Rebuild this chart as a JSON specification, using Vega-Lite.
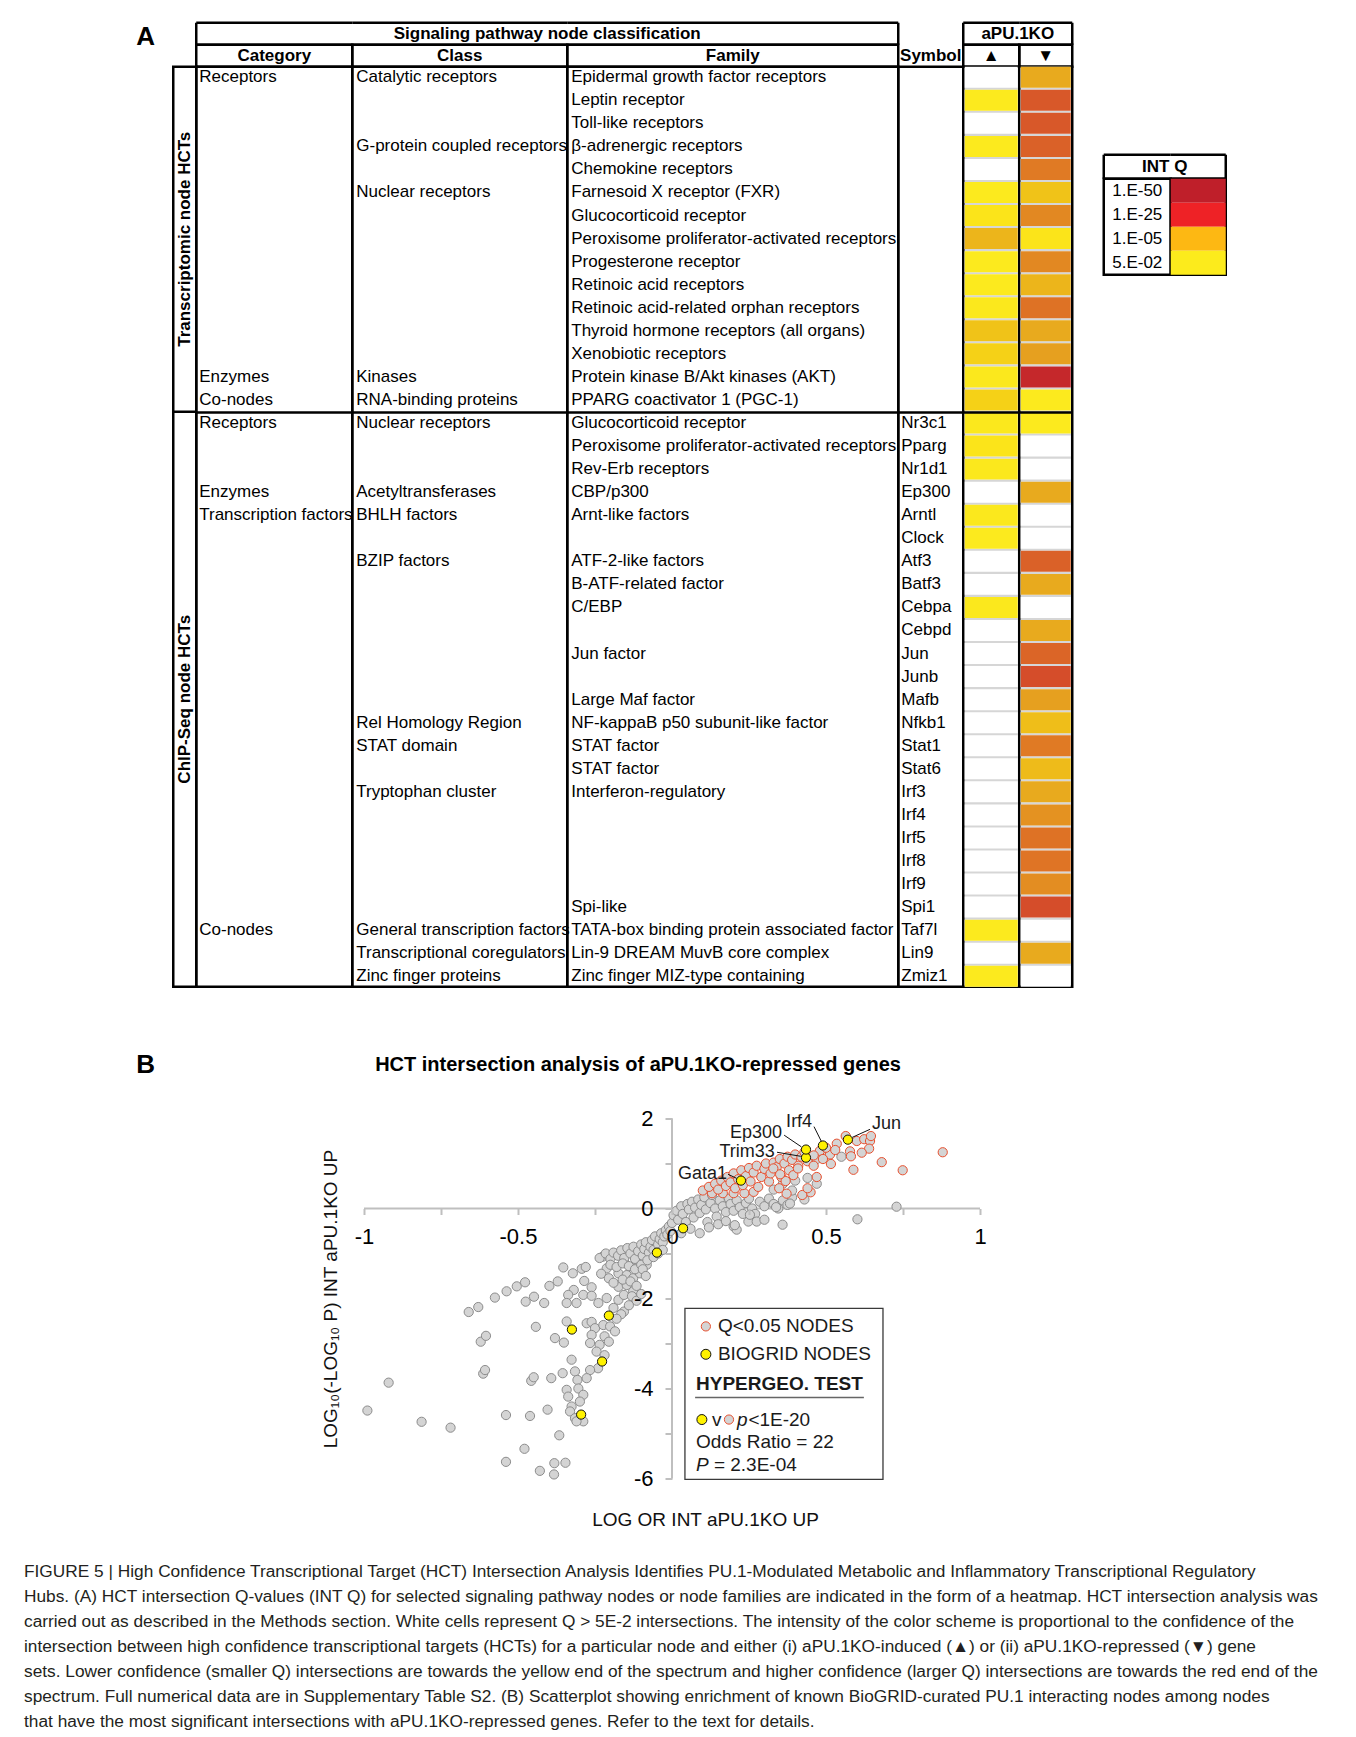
{
"$schema": "https://vega.github.io/schema/vega-lite/v6.json",
"background": "white",
"padding": {"left": 24, "top": 20.75, "right": 6, "bottom": 6},
"config": {"font": "Liberation Sans", "view": {"stroke": null}, "text": {"color": "#000000"}},
"datasets": {
"table": [
{"row":0,"cat":"Receptors","cls":"Catalytic receptors","fam":"Epidermal growth factor receptors","sym":"","up":null,"down":5},
{"row":1,"cat":"","cls":"","fam":"Leptin receptor","sym":"","up":1.6,"down":18},
{"row":2,"cat":"","cls":"","fam":"Toll-like receptors","sym":"","up":null,"down":18},
{"row":3,"cat":"","cls":"G-protein coupled receptors","fam":"β-adrenergic receptors","sym":"","up":1.6,"down":16},
{"row":4,"cat":"","cls":"","fam":"Chemokine receptors","sym":"","up":null,"down":10},
{"row":5,"cat":"","cls":"Nuclear receptors","fam":"Farnesoid X receptor (FXR)","sym":"","up":1.6,"down":3.4},
{"row":6,"cat":"","cls":"","fam":"Glucocorticoid receptor","sym":"","up":2,"down":8.5},
{"row":7,"cat":"","cls":"","fam":"Peroxisome proliferator-activated receptors","sym":"","up":4.3,"down":2},
{"row":8,"cat":"","cls":"","fam":"Progesterone receptor","sym":"","up":1.6,"down":8.5},
{"row":9,"cat":"","cls":"","fam":"Retinoic acid receptors","sym":"","up":1.6,"down":4.3},
{"row":10,"cat":"","cls":"","fam":"Retinoic acid-related orphan receptors","sym":"","up":1.7,"down":12},
{"row":11,"cat":"","cls":"","fam":"Thyroid hormone receptors (all organs)","sym":"","up":3.4,"down":5},
{"row":12,"cat":"","cls":"","fam":"Xenobiotic receptors","sym":"","up":2.7,"down":6},
{"row":13,"cat":"Enzymes","cls":"Kinases","fam":"Protein kinase B/Akt kinases (AKT)","sym":"","up":1.7,"down":45},
{"row":14,"cat":"Co-nodes","cls":"RNA-binding proteins","fam":"PPARG coactivator 1 (PGC-1)","sym":"","up":2.7,"down":1.6},
{"row":15,"cat":"Receptors","cls":"Nuclear receptors","fam":"Glucocorticoid receptor","sym":"Nr3c1","up":1.7,"down":1.6},
{"row":16,"cat":"","cls":"","fam":"Peroxisome proliferator-activated receptors","sym":"Pparg","up":2,"down":null},
{"row":17,"cat":"","cls":"","fam":"Rev-Erb receptors","sym":"Nr1d1","up":1.7,"down":null},
{"row":18,"cat":"Enzymes","cls":"Acetyltransferases","fam":"CBP/p300","sym":"Ep300","up":null,"down":5},
{"row":19,"cat":"Transcription factors","cls":"BHLH factors","fam":"Arnt-like factors","sym":"Arntl","up":1.7,"down":null},
{"row":20,"cat":"","cls":"","fam":"","sym":"Clock","up":1.6,"down":null},
{"row":21,"cat":"","cls":"BZIP factors","fam":"ATF-2-like factors","sym":"Atf3","up":null,"down":16},
{"row":22,"cat":"","cls":"","fam":"B-ATF-related factor","sym":"Batf3","up":null,"down":5},
{"row":23,"cat":"","cls":"","fam":"C/EBP","sym":"Cebpa","up":1.7,"down":null},
{"row":24,"cat":"","cls":"","fam":"","sym":"Cebpd","up":null,"down":5},
{"row":25,"cat":"","cls":"","fam":"Jun factor","sym":"Jun","up":null,"down":15},
{"row":26,"cat":"","cls":"","fam":"","sym":"Junb","up":null,"down":22},
{"row":27,"cat":"","cls":"","fam":"Large Maf factor","sym":"Mafb","up":null,"down":6},
{"row":28,"cat":"","cls":"Rel Homology Region","fam":"NF-kappaB p50 subunit-like factor","sym":"Nfkb1","up":null,"down":3.7},
{"row":29,"cat":"","cls":"STAT domain","fam":"STAT factor","sym":"Stat1","up":null,"down":10},
{"row":30,"cat":"","cls":"","fam":"STAT factor","sym":"Stat6","up":null,"down":3.9},
{"row":31,"cat":"","cls":"Tryptophan cluster","fam":"Interferon-regulatory","sym":"Irf3","up":null,"down":5},
{"row":32,"cat":"","cls":"","fam":"","sym":"Irf4","up":null,"down":7.5},
{"row":33,"cat":"","cls":"","fam":"","sym":"Irf5","up":null,"down":12},
{"row":34,"cat":"","cls":"","fam":"","sym":"Irf8","up":null,"down":11.5},
{"row":35,"cat":"","cls":"","fam":"","sym":"Irf9","up":null,"down":8},
{"row":36,"cat":"","cls":"","fam":"Spi-like","sym":"Spi1","up":null,"down":22},
{"row":37,"cat":"Co-nodes","cls":"General transcription factors","fam":"TATA-box binding protein associated factor","sym":"Taf7l","up":1.6,"down":null},
{"row":38,"cat":"","cls":"Transcriptional coregulators","fam":"Lin-9 DREAM MuvB core complex","sym":"Lin9","up":null,"down":5},
{"row":39,"cat":"","cls":"Zinc finger proteins","fam":"Zinc finger MIZ-type containing","sym":"Zmiz1","up":1.6,"down":null}
],
"legendq": [{"label":"1.E-50"},{"label":"1.E-25"},{"label":"1.E-05"},{"label":"5.E-02"}],
"caption": [
{"line":1,"text":"FIGURE 5 | High Confidence Transcriptional Target (HCT) Intersection Analysis Identifies PU.1-Modulated Metabolic and Inflammatory Transcriptional Regulatory"},
{"line":2,"text":"Hubs. (A) HCT intersection Q-values (INT Q) for selected signaling pathway nodes or node families are indicated in the form of a heatmap. HCT intersection analysis was"},
{"line":3,"text":"carried out as described in the Methods section. White cells represent Q > 5E-2 intersections. The intensity of the color scheme is proportional to the confidence of the"},
{"line":4,"text":"intersection between high confidence transcriptional targets (HCTs) for a particular node and either (i) aPU.1KO-induced (▲) or (ii) aPU.1KO-repressed (▼) gene"},
{"line":5,"text":"sets. Lower confidence (smaller Q) intersections are towards the yellow end of the spectrum and higher confidence (larger Q) intersections are towards the red end of the"},
{"line":6,"text":"spectrum. Full numerical data are in Supplementary Table S2. (B) Scatterplot showing enrichment of known BioGRID-curated PU.1 interacting nodes among nodes"},
{"line":7,"text":"that have the most significant intersections with aPU.1KO-repressed genes. Refer to the text for details."}
],
"pts": [
{"x":-0.989,"y":-4.49,"g":"n"},{"x":-0.92,"y":-3.87,"g":"n"},{"x":-0.813,"y":-4.74,"g":"n"},{"x":-0.719,"y":-4.87,"g":"n"},{"x":-0.66,"y":-2.3,"g":"n"},{"x":-0.629,"y":-2.19,"g":"n"},{"x":-0.575,"y":-1.98,"g":"n"},{"x":-0.537,"y":-1.84,"g":"n"},{"x":-0.504,"y":-1.73,"g":"n"},{"x":-0.477,"y":-1.64,"g":"n"},
{"x":-0.621,"y":-2.96,"g":"n"},{"x":-0.604,"y":-2.83,"g":"n"},{"x":-0.613,"y":-3.67,"g":"n"},{"x":-0.607,"y":-3.59,"g":"n"},{"x":-0.539,"y":-4.59,"g":"n"},{"x":-0.461,"y":-4.61,"g":"n"},{"x":-0.404,"y":-4.47,"g":"n"},{"x":-0.539,"y":-5.63,"g":"n"},{"x":-0.479,"y":-5.34,"g":"n"},{"x":-0.429,"y":-5.83,"g":"n"},
{"x":-0.382,"y":-5.66,"g":"n"},{"x":-0.346,"y":-5.65,"g":"n"},{"x":-0.383,"y":-5.91,"g":"n"},{"x":-0.366,"y":-5.04,"g":"n"},{"x":-0.442,"y":-2.63,"g":"n"},{"x":-0.457,"y":-3.83,"g":"n"},{"x":-0.449,"y":-3.75,"g":"n"},{"x":-0.392,"y":-3.77,"g":"n"},{"x":-0.475,"y":-2.07,"g":"n"},{"x":-0.448,"y":-1.96,"g":"n"},
{"x":-0.415,"y":-2.1,"g":"n"},{"x":-0.398,"y":-1.72,"g":"n"},{"x":-0.371,"y":-1.62,"g":"n"},{"x":-0.353,"y":-1.31,"g":"n"},{"x":-0.322,"y":-1.44,"g":"n"},{"x":-0.293,"y":-1.34,"g":"n"},{"x":-0.28,"y":-1.3,"g":"n"},{"x":-0.342,"y":-2.51,"g":"n"},{"x":-0.38,"y":-2.88,"g":"n"},{"x":-0.351,"y":-2.98,"g":"n"},
{"x":-0.326,"y":-3.36,"g":"n"},{"x":-0.355,"y":-3.66,"g":"n"},{"x":-0.315,"y":-3.62,"g":"n"},{"x":-0.307,"y":-3.81,"g":"n"},{"x":-0.342,"y":-4.03,"g":"n"},{"x":-0.337,"y":-4.18,"g":"n"},{"x":-0.326,"y":-4.4,"g":"n"},{"x":-0.331,"y":-4.51,"g":"n"},{"x":-0.315,"y":-4.66,"g":"n"},{"x":-0.288,"y":-4.73,"g":"n"},
{"x":-0.304,"y":-4.0,"g":"n"},{"x":-0.288,"y":-4.14,"g":"n"},{"x":-0.299,"y":-4.29,"g":"n"},{"x":-0.31,"y":-4.73,"g":"n"},{"x":-0.285,"y":-1.61,"g":"n"},{"x":-0.261,"y":-1.75,"g":"n"},{"x":-0.319,"y":-1.81,"g":"n"},{"x":-0.337,"y":-1.92,"g":"n"},{"x":-0.342,"y":-2.1,"g":"n"},{"x":-0.31,"y":-2.1,"g":"n"},
{"x":-0.288,"y":-1.92,"g":"n"},{"x":-0.261,"y":-1.94,"g":"n"},{"x":-0.239,"y":-2.1,"g":"n"},{"x":-0.277,"y":-2.55,"g":"n"},{"x":-0.261,"y":-2.52,"g":"n"},{"x":-0.25,"y":-2.66,"g":"n"},{"x":-0.223,"y":-2.59,"g":"n"},{"x":-0.201,"y":-2.62,"g":"n"},{"x":-0.185,"y":-2.73,"g":"n"},{"x":-0.219,"y":-2.84,"g":"n"},
{"x":-0.205,"y":-2.96,"g":"n"},{"x":-0.235,"y":-3.03,"g":"n"},{"x":-0.261,"y":-2.81,"g":"n"},{"x":-0.266,"y":-2.99,"g":"n"},{"x":-0.245,"y":-3.18,"g":"n"},{"x":-0.219,"y":-3.26,"g":"n"},{"x":-0.24,"y":-3.55,"g":"n"},{"x":-0.266,"y":-3.59,"g":"n"},{"x":-0.277,"y":-3.77,"g":"n"},{"x":-0.225,"y":-1.07,"g":"n"},
{"x":-0.196,"y":-1.03,"g":"n"},{"x":-0.167,"y":-1.02,"g":"n"},{"x":-0.212,"y":-1.33,"g":"n"},{"x":-0.174,"y":-1.44,"g":"n"},{"x":-0.147,"y":-1.48,"g":"n"},{"x":-0.126,"y":-1.55,"g":"n"},{"x":-0.104,"y":-1.44,"g":"n"},{"x":-0.156,"y":-1.18,"g":"n"},{"x":-0.113,"y":-1.18,"g":"n"},{"x":-0.082,"y":-1.25,"g":"n"},
{"x":-0.093,"y":-1.03,"g":"n"},{"x":-0.071,"y":-0.88,"g":"n"},{"x":-0.212,"y":-1.99,"g":"n"},{"x":-0.174,"y":-2.03,"g":"n"},{"x":-0.19,"y":-2.21,"g":"n"},{"x":-0.156,"y":-2.29,"g":"n"},{"x":-0.126,"y":-1.84,"g":"n"},{"x":-0.174,"y":-1.74,"g":"n"},{"x":-0.147,"y":-1.7,"g":"n"},{"x":-0.156,"y":-1.92,"g":"n"},
{"x":-0.235,"y":-1.1,"g":"n"},{"x":-0.215,"y":-1.0,"g":"n"},{"x":-0.2,"y":-1.12,"g":"n"},{"x":-0.19,"y":-0.98,"g":"n"},{"x":-0.175,"y":-1.05,"g":"n"},{"x":-0.165,"y":-0.93,"g":"n"},{"x":-0.155,"y":-1.1,"g":"n"},{"x":-0.145,"y":-0.88,"g":"n"},{"x":-0.135,"y":-1.0,"g":"n"},{"x":-0.125,"y":-0.85,"g":"n"},
{"x":-0.12,"y":-1.12,"g":"n"},{"x":-0.11,"y":-0.95,"g":"n"},{"x":-0.1,"y":-0.8,"g":"n"},{"x":-0.095,"y":-1.05,"g":"n"},{"x":-0.09,"y":-0.9,"g":"n"},{"x":-0.085,"y":-0.75,"g":"n"},{"x":-0.075,"y":-0.98,"g":"n"},{"x":-0.07,"y":-0.85,"g":"n"},{"x":-0.065,"y":-0.7,"g":"n"},{"x":-0.06,"y":-0.92,"g":"n"},
{"x":-0.055,"y":-0.62,"g":"n"},{"x":-0.045,"y":-0.8,"g":"n"},{"x":-0.04,"y":-0.68,"g":"n"},{"x":-0.035,"y":-0.55,"g":"n"},{"x":-0.03,"y":-0.75,"g":"n"},{"x":-0.025,"y":-0.62,"g":"n"},{"x":-0.02,"y":-0.48,"g":"n"},{"x":-0.015,"y":-0.58,"g":"n"},{"x":-0.01,"y":-0.4,"g":"n"},{"x":-0.005,"y":-0.5,"g":"n"},
{"x":0.0,"y":-0.32,"g":"n"},{"x":-0.2,"y":-1.25,"g":"n"},{"x":-0.18,"y":-1.3,"g":"n"},{"x":-0.16,"y":-1.22,"g":"n"},{"x":-0.14,"y":-1.28,"g":"n"},{"x":-0.12,"y":-1.35,"g":"n"},{"x":-0.1,"y":-1.25,"g":"n"},{"x":-0.08,"y":-1.15,"g":"n"},{"x":-0.06,"y":-1.08,"g":"n"},{"x":-0.045,"y":-1.0,"g":"n"},
{"x":-0.03,"y":-0.92,"g":"n"},{"x":-0.23,"y":-1.45,"g":"n"},{"x":-0.205,"y":-1.55,"g":"n"},{"x":-0.19,"y":-1.65,"g":"n"},{"x":-0.16,"y":-1.58,"g":"n"},{"x":-0.135,"y":-1.62,"g":"n"},{"x":-0.115,"y":-1.72,"g":"n"},{"x":-0.095,"y":-1.35,"g":"n"},{"x":-0.085,"y":-1.5,"g":"n"},{"x":-0.13,"y":-1.95,"g":"n"},
{"x":-0.115,"y":-2.05,"g":"n"},{"x":-0.1,"y":-1.9,"g":"n"},{"x":-0.14,"y":-2.15,"g":"n"},{"x":-0.165,"y":-2.35,"g":"n"},{"x":-0.18,"y":-2.45,"g":"n"},
{"x":0.005,"y":-0.15,"g":"n"},{"x":0.015,"y":-0.05,"g":"n"},{"x":0.02,"y":-0.25,"g":"n"},{"x":0.03,"y":0.05,"g":"n"},{"x":0.035,"y":-0.12,"g":"n"},{"x":0.045,"y":-0.3,"g":"n"},{"x":0.05,"y":0.1,"g":"n"},{"x":0.055,"y":-0.02,"g":"n"},{"x":0.065,"y":0.15,"g":"n"},{"x":0.07,"y":-0.2,"g":"n"},
{"x":0.075,"y":0.02,"g":"n"},{"x":0.085,"y":0.2,"g":"n"},{"x":0.09,"y":-0.1,"g":"n"},{"x":0.095,"y":0.08,"g":"n"},{"x":0.105,"y":0.25,"g":"n"},{"x":0.11,"y":-0.02,"g":"n"},{"x":0.115,"y":-0.3,"g":"n"},{"x":0.125,"y":0.12,"g":"n"},{"x":0.13,"y":0.3,"g":"n"},{"x":0.14,"y":0.0,"g":"n"},
{"x":0.145,"y":-0.18,"g":"n"},{"x":0.155,"y":0.18,"g":"n"},{"x":0.165,"y":0.05,"g":"n"},{"x":0.175,"y":-0.08,"g":"n"},{"x":0.185,"y":0.22,"g":"n"},{"x":0.19,"y":0.1,"g":"n"},{"x":0.2,"y":-0.05,"g":"n"},{"x":0.21,"y":0.18,"g":"n"},{"x":0.22,"y":0.03,"g":"n"},{"x":0.23,"y":-0.12,"g":"n"},
{"x":0.24,"y":0.12,"g":"n"},{"x":0.25,"y":0.22,"g":"n"},{"x":0.26,"y":0.0,"g":"n"},{"x":0.27,"y":-0.12,"g":"n"},{"x":0.285,"y":0.15,"g":"n"},{"x":0.3,"y":0.05,"g":"n"},{"x":0.315,"y":0.22,"g":"n"},{"x":0.33,"y":0.1,"g":"n"},{"x":0.345,"y":0.0,"g":"n"},{"x":0.36,"y":0.18,"g":"n"},
{"x":0.375,"y":0.08,"g":"n"},{"x":0.39,"y":0.25,"g":"n"},{"x":0.15,"y":-0.35,"g":"n"},{"x":0.175,"y":-0.28,"g":"n"},{"x":0.2,"y":-0.4,"g":"n"},{"x":0.21,"y":-0.47,"g":"n"},{"x":0.204,"y":-0.37,"g":"n"},{"x":0.248,"y":-0.29,"g":"n"},{"x":0.275,"y":-0.29,"g":"n"},{"x":0.253,"y":-0.14,"g":"n"},
{"x":0.359,"y":-0.36,"g":"n"},{"x":0.338,"y":0.03,"g":"n"},{"x":0.383,"y":0.11,"g":"n"},{"x":0.602,"y":-0.24,"g":"n"},{"x":0.729,"y":0.04,"g":"n"},{"x":0.3,"y":-0.25,"g":"n"},{"x":0.06,"y":-0.45,"g":"n"},{"x":0.09,"y":-0.55,"g":"n"},{"x":0.12,"y":-0.42,"g":"n"},{"x":0.03,"y":-0.55,"g":"n"},
{"x":0.36,"y":0.55,"g":"n"},{"x":0.4,"y":0.62,"g":"n"},{"x":0.44,"y":0.68,"g":"n"},{"x":0.47,"y":0.55,"g":"n"},{"x":0.43,"y":0.2,"g":"n"},{"x":0.39,"y":0.4,"g":"n"},{"x":0.33,"y":0.42,"g":"n"},{"x":0.55,"y":1.15,"g":"n"},{"x":0.5,"y":1.23,"g":"n"},{"x":0.47,"y":1.1,"g":"n"},
{"x":0.13,"y":0.34,"g":"q"},{"x":0.165,"y":0.34,"g":"q"},{"x":0.2,"y":0.34,"g":"q"},{"x":0.235,"y":0.34,"g":"q"},{"x":0.265,"y":0.37,"g":"q"},{"x":0.1,"y":0.4,"g":"q"},{"x":0.12,"y":0.48,"g":"q"},{"x":0.14,"y":0.55,"g":"q"},{"x":0.15,"y":0.42,"g":"q"},{"x":0.16,"y":0.62,"g":"q"},
{"x":0.175,"y":0.5,"g":"q"},{"x":0.18,"y":0.7,"g":"q"},{"x":0.19,"y":0.58,"g":"q"},{"x":0.2,"y":0.78,"g":"q"},{"x":0.205,"y":0.45,"g":"q"},{"x":0.215,"y":0.65,"g":"q"},{"x":0.225,"y":0.85,"g":"q"},{"x":0.23,"y":0.52,"g":"q"},{"x":0.24,"y":0.72,"g":"q"},{"x":0.25,"y":0.9,"g":"q"},
{"x":0.255,"y":0.6,"g":"q"},{"x":0.265,"y":0.8,"g":"q"},{"x":0.275,"y":0.95,"g":"q"},{"x":0.28,"y":0.48,"g":"q"},{"x":0.29,"y":0.7,"g":"q"},{"x":0.3,"y":0.88,"g":"q"},{"x":0.305,"y":1.0,"g":"q"},{"x":0.315,"y":0.6,"g":"q"},{"x":0.32,"y":0.78,"g":"q"},{"x":0.33,"y":1.02,"g":"q"},
{"x":0.34,"y":0.92,"g":"q"},{"x":0.35,"y":1.1,"g":"q"},{"x":0.355,"y":0.7,"g":"q"},{"x":0.365,"y":1.0,"g":"q"},{"x":0.375,"y":1.15,"g":"q"},{"x":0.38,"y":0.85,"g":"q"},{"x":0.39,"y":1.08,"g":"q"},{"x":0.4,"y":1.2,"g":"q"},{"x":0.41,"y":0.95,"g":"q"},{"x":0.42,"y":1.15,"g":"q"},
{"x":0.43,"y":1.25,"g":"q"},{"x":0.44,"y":1.05,"g":"q"},{"x":0.45,"y":0.36,"g":"q"},{"x":0.423,"y":0.3,"g":"q"},{"x":0.372,"y":0.33,"g":"q"},{"x":0.348,"y":0.45,"g":"q"},{"x":0.369,"y":0.61,"g":"q"},{"x":0.394,"y":0.74,"g":"q"},{"x":0.409,"y":0.89,"g":"q"},{"x":0.351,"y":0.76,"g":"q"},
{"x":0.329,"y":0.89,"g":"q"},{"x":0.47,"y":0.7,"g":"q"},{"x":0.513,"y":1.2,"g":"q"},{"x":0.516,"y":0.99,"g":"q"},{"x":0.535,"y":1.44,"g":"q"},{"x":0.564,"y":1.61,"g":"q"},{"x":0.6,"y":1.5,"g":"q"},{"x":0.624,"y":1.54,"g":"q"},{"x":0.643,"y":1.5,"g":"q"},{"x":0.646,"y":1.61,"g":"q"},
{"x":0.64,"y":1.33,"g":"q"},{"x":0.616,"y":1.24,"g":"q"},{"x":0.578,"y":1.27,"g":"q"},{"x":0.581,"y":1.16,"g":"q"},{"x":0.589,"y":0.86,"g":"q"},{"x":0.681,"y":1.03,"g":"q"},{"x":0.749,"y":0.85,"g":"q"},{"x":0.879,"y":1.25,"g":"q"},{"x":0.48,"y":1.28,"g":"q"},{"x":0.46,"y":1.18,"g":"q"},
{"x":0.5,"y":1.35,"g":"q"},{"x":0.53,"y":1.3,"g":"q"},{"x":0.44,"y":0.45,"g":"q"},{"x":0.46,"y":0.95,"g":"q"},{"x":0.49,"y":1.1,"g":"q"},
{"x":0.036,"y":-0.44,"g":"b","gene":""},{"x":-0.049,"y":-0.98,"g":"b","gene":""},{"x":-0.205,"y":-2.38,"g":"b","gene":""},{"x":-0.325,"y":-2.69,"g":"b","gene":""},{"x":-0.227,"y":-3.4,"g":"b","gene":""},{"x":-0.295,"y":-4.58,"g":"b","gene":""},
{"x":0.224,"y":0.62,"g":"b","gene":"Gata1"},{"x":0.435,"y":1.13,"g":"b","gene":"Trim33"},{"x":0.435,"y":1.31,"g":"b","gene":"Ep300"},{"x":0.49,"y":1.4,"g":"b","gene":"Irf4"},{"x":0.571,"y":1.53,"g":"b","gene":"Jun"}
]
},
"spacing": 62.75,
"resolve": {"scale": {"fill": "independent", "stroke": "independent", "color": "independent", "size": "independent"}},
"vconcat": [
{
"spacing": 15.25,
"hconcat": [
{"width": 131, "height": 28.5, "data": {"values": [{"t": "A"}]}, "mark": {"type": "text", "align": "right", "baseline": "middle", "fontSize": 26, "fontWeight": "bold"}, "encoding": {"text": {"field": "t"}, "x": {"datum": 1, "type": "quantitative", "scale": {"domain": [0, 1]}, "axis": null}}},
{"spacing": 26.5, "hconcat": [
{"columns": 7, "bounds": "flush", "align": "each", "spacing": 0,
 "concat": [
 {"width": 23, "height": 22, "data": {"values": [{"t": ""}]}, "mark": "text", "encoding": {"text": {"field": "t"}}},
 {"width": 156, "height": 22, "data": {"values": [{}]}, "layer": [
   {"mark": {"type": "rule", "color": "#000", "strokeWidth": 2.5}, "encoding": {"y": {"datum": 1, "type": "quantitative", "scale": {"domain": [0, 1]}, "axis": null}}},
   {"mark": {"type": "rule", "color": "#000", "strokeWidth": 2.5}, "encoding": {"y": {"datum": 0, "type": "quantitative"}}},
   {"mark": {"type": "rule", "color": "#000", "strokeWidth": 2.5}, "encoding": {"x": {"datum": 0, "type": "quantitative", "scale": {"domain": [0, 1]}, "axis": null}}}
 ]},
 {"width": 215, "height": 22, "layer": [
   {"data": {"values": [{}]}, "mark": {"type": "rule", "color": "#000", "strokeWidth": 2.5}, "encoding": {"y": {"datum": 1, "type": "quantitative", "scale": {"domain": [0, 1]}, "axis": null}}},
   {"data": {"values": [{}]}, "mark": {"type": "rule", "color": "#000", "strokeWidth": 2.5}, "encoding": {"y": {"datum": 0, "type": "quantitative"}}},
   {"data": {"values": [{"t": "Signaling pathway node classification"}]}, "mark": {"type": "text", "fontSize": 17, "fontWeight": "bold", "baseline": "middle", "dx": 87.5}, "encoding": {"text": {"field": "t"}}}
 ]},
 {"width": 331, "height": 22, "data": {"values": [{}]}, "layer": [
   {"mark": {"type": "rule", "color": "#000", "strokeWidth": 2.5}, "encoding": {"y": {"datum": 1, "type": "quantitative", "scale": {"domain": [0, 1]}, "axis": null}}},
   {"mark": {"type": "rule", "color": "#000", "strokeWidth": 2.5}, "encoding": {"y": {"datum": 0, "type": "quantitative"}}},
   {"mark": {"type": "rule", "color": "#000", "strokeWidth": 2.5}, "encoding": {"x": {"datum": 1, "type": "quantitative", "scale": {"domain": [0, 1]}, "axis": null}}}
 ]},
 {"width": 65, "height": 22, "data": {"values": [{"t": ""}]}, "mark": "text", "encoding": {"text": {"field": "t"}}},
 {"width": 56, "height": 22, "layer": [
   {"data": {"values": [{}]}, "mark": {"type": "rule", "color": "#000", "strokeWidth": 2.5}, "encoding": {"y": {"datum": 1, "type": "quantitative", "scale": {"domain": [0, 1]}, "axis": null}}},
   {"data": {"values": [{}]}, "mark": {"type": "rule", "color": "#000", "strokeWidth": 2.5}, "encoding": {"y": {"datum": 0, "type": "quantitative"}}},
   {"data": {"values": [{}]}, "mark": {"type": "rule", "color": "#000", "strokeWidth": 2.5}, "encoding": {"x": {"datum": 0, "type": "quantitative", "scale": {"domain": [0, 1]}, "axis": null}}},
   {"data": {"values": [{"t": "aPU.1KO"}]}, "mark": {"type": "text", "fontSize": 17, "fontWeight": "bold", "baseline": "middle", "dx": 26.5}, "encoding": {"text": {"field": "t"}}}
 ]},
 {"width": 53, "height": 22, "data": {"values": [{}]}, "layer": [
   {"mark": {"type": "rule", "color": "#000", "strokeWidth": 2.5}, "encoding": {"y": {"datum": 1, "type": "quantitative", "scale": {"domain": [0, 1]}, "axis": null}}},
   {"mark": {"type": "rule", "color": "#000", "strokeWidth": 2.5}, "encoding": {"y": {"datum": 0, "type": "quantitative"}}},
   {"mark": {"type": "rule", "color": "#000", "strokeWidth": 2.5}, "encoding": {"x": {"datum": 1, "type": "quantitative", "scale": {"domain": [0, 1]}, "axis": null}}}
 ]},
 {"width": 23, "height": 22, "data": {"values": [{"t": ""}]}, "mark": "text", "encoding": {"text": {"field": "t"}}},
 {"width": 156, "height": 22, "view": {"stroke": "#000", "strokeWidth": 2.5}, "data": {"values": [{"t": "Category"}]}, "mark": {"type": "text", "fontSize": 17, "fontWeight": "bold", "baseline": "middle"}, "encoding": {"text": {"field": "t"}}},
 {"width": 215, "height": 22, "view": {"stroke": "#000", "strokeWidth": 2.5}, "data": {"values": [{"t": "Class"}]}, "mark": {"type": "text", "fontSize": 17, "fontWeight": "bold", "baseline": "middle"}, "encoding": {"text": {"field": "t"}}},
 {"width": 331, "height": 22, "view": {"stroke": "#000", "strokeWidth": 2.5}, "data": {"values": [{"t": "Family"}]}, "mark": {"type": "text", "fontSize": 17, "fontWeight": "bold", "baseline": "middle"}, "encoding": {"text": {"field": "t"}}},
 {"width": 65, "height": 22, "data": {"values": [{"t": "Symbol"}]}, "mark": {"type": "text", "fontSize": 17, "fontWeight": "bold", "baseline": "middle"}, "encoding": {"text": {"field": "t"}}},
 {"width": 56, "height": 22, "view": {"stroke": "#000", "strokeWidth": 2.5}, "data": {"values": [{"t": "▲"}]}, "mark": {"type": "text", "fontSize": 17, "baseline": "middle"}, "encoding": {"text": {"field": "t"}}},
 {"width": 53, "height": 22, "view": {"stroke": "#000", "strokeWidth": 2.5}, "data": {"values": [{"t": "▼"}]}, "mark": {"type": "text", "fontSize": 17, "baseline": "middle"}, "encoding": {"text": {"field": "t"}}},
 {"width": 23, "height": 920, "view": {"stroke": "#000", "strokeWidth": 2.5},
  "layer": [
  {"data": {"values": [{"t": "Transcriptomic node HCTs", "mid": 7.5}, {"t": "ChIP-Seq node HCTs", "mid": 27.5}]},
   "mark": {"type": "text", "angle": 270, "fontSize": 17, "fontWeight": "bold", "align": "center", "baseline": "middle"},
   "encoding": {"y": {"field": "mid", "type": "quantitative", "scale": {"domain": [0, 40], "reverse": true, "nice": false, "zero": false}, "axis": null}, "text": {"field": "t"}}},
  {"data": {"values": [{}]}, "mark": {"type": "rule", "color": "#000", "strokeWidth": 2.5}, "encoding": {"y": {"datum": 15, "type": "quantitative"}}}
  ]},
 {"width": 156, "height": 920, "view": {"stroke": "#000", "strokeWidth": 2.5}, "data": {"name": "table"},
  "layer": [
  {"mark": {"type": "text", "align": "left", "baseline": "middle", "dx": 3, "fontSize": 17}, "encoding": {"y": {"field": "row", "type": "ordinal", "axis": null, "scale": {"paddingInner": 0.09, "paddingOuter": 0}}, "x": {"datum": 0, "type": "quantitative", "scale": {"domain": [0, 1]}, "axis": null}, "text": {"field": "cat"}}},
  {"transform": [{"filter": "datum.row == 15"}], "mark": {"type": "rule", "color": "#000", "strokeWidth": 2.5}, "encoding": {"y": {"field": "row", "type": "ordinal", "bandPosition": 0, "axis": null, "scale": {"paddingInner": 0.09, "paddingOuter": 0}}}}
  ]},
 {"width": 215, "height": 920, "view": {"stroke": "#000", "strokeWidth": 2.5}, "data": {"name": "table"},
  "layer": [
  {"mark": {"type": "text", "align": "left", "baseline": "middle", "dx": 4, "fontSize": 17}, "encoding": {"y": {"field": "row", "type": "ordinal", "axis": null, "scale": {"paddingInner": 0.09, "paddingOuter": 0}}, "x": {"datum": 0, "type": "quantitative", "scale": {"domain": [0, 1]}, "axis": null}, "text": {"field": "cls"}}},
  {"transform": [{"filter": "datum.row == 15"}], "mark": {"type": "rule", "color": "#000", "strokeWidth": 2.5}, "encoding": {"y": {"field": "row", "type": "ordinal", "bandPosition": 0, "axis": null, "scale": {"paddingInner": 0.09, "paddingOuter": 0}}}}
  ]},
 {"width": 331, "height": 920, "view": {"stroke": "#000", "strokeWidth": 2.5}, "data": {"name": "table"},
  "layer": [
  {"mark": {"type": "text", "align": "left", "baseline": "middle", "dx": 4, "fontSize": 17}, "encoding": {"y": {"field": "row", "type": "ordinal", "axis": null, "scale": {"paddingInner": 0.09, "paddingOuter": 0}}, "x": {"datum": 0, "type": "quantitative", "scale": {"domain": [0, 1]}, "axis": null}, "text": {"field": "fam"}}},
  {"transform": [{"filter": "datum.row == 15"}], "mark": {"type": "rule", "color": "#000", "strokeWidth": 2.5}, "encoding": {"y": {"field": "row", "type": "ordinal", "bandPosition": 0, "axis": null, "scale": {"paddingInner": 0.09, "paddingOuter": 0}}}}
  ]},
 {"width": 65, "height": 920, "view": {"stroke": "#000", "strokeWidth": 2.5}, "data": {"name": "table"},
  "layer": [
  {"mark": {"type": "text", "align": "left", "baseline": "middle", "dx": 3, "fontSize": 17}, "encoding": {"y": {"field": "row", "type": "ordinal", "axis": null, "scale": {"paddingInner": 0.09, "paddingOuter": 0}}, "x": {"datum": 0, "type": "quantitative", "scale": {"domain": [0, 1]}, "axis": null}, "text": {"field": "sym"}}},
  {"transform": [{"filter": "datum.row == 15"}], "mark": {"type": "rule", "color": "#000", "strokeWidth": 2.5}, "encoding": {"y": {"field": "row", "type": "ordinal", "bandPosition": 0, "axis": null, "scale": {"paddingInner": 0.09, "paddingOuter": 0}}}}
  ]},
 {"width": 56, "height": 920, "view": {"stroke": "#000", "strokeWidth": 2.5, "fill": "#D6D6D6"}, "data": {"name": "table"},
  "layer": [
  {"mark": {"type": "rect", "fill": "white"}, "encoding": {"y": {"field": "row", "type": "ordinal", "axis": null, "scale": {"paddingInner": 0.09, "paddingOuter": 0}}, "x": {"datum": 0, "type": "quantitative", "scale": {"domain": [0, 1], "padding": 1.5, "nice": false, "zero": false}, "axis": null}, "x2": {"datum": 1}}},
  {"transform": [{"filter": "isValid(datum.up)"}], "mark": {"type": "rect"}, "encoding": {"y": {"field": "row", "type": "ordinal", "axis": null, "scale": {"paddingInner": 0.09, "paddingOuter": 0}}, "x": {"datum": 0, "type": "quantitative", "scale": {"domain": [0, 1], "padding": 1.5, "nice": false, "zero": false}, "axis": null}, "x2": {"datum": 1},
    "color": {"field": "up", "type": "quantitative", "scale": {"domain": [1.3, 2, 3, 5, 10, 20, 50], "range": ["#FCEE21", "#FBE41A", "#F2C916", "#E8AA1E", "#E07A24", "#D6502A", "#C1202B"], "interpolate": "rgb"}, "legend": null}}},
  {"transform": [{"filter": "datum.row == 15"}], "mark": {"type": "rule", "color": "#000", "strokeWidth": 2.5}, "encoding": {"y": {"field": "row", "type": "ordinal", "bandPosition": 0, "axis": null, "scale": {"paddingInner": 0.09, "paddingOuter": 0}}}}
  ]},
 {"width": 53, "height": 920, "view": {"stroke": "#000", "strokeWidth": 2.5, "fill": "#D6D6D6"}, "data": {"name": "table"},
  "layer": [
  {"mark": {"type": "rect", "fill": "white"}, "encoding": {"y": {"field": "row", "type": "ordinal", "axis": null, "scale": {"paddingInner": 0.09, "paddingOuter": 0}}, "x": {"datum": 0, "type": "quantitative", "scale": {"domain": [0, 1], "padding": 1.5, "nice": false, "zero": false}, "axis": null}, "x2": {"datum": 1}}},
  {"transform": [{"filter": "isValid(datum.down)"}], "mark": {"type": "rect"}, "encoding": {"y": {"field": "row", "type": "ordinal", "axis": null, "scale": {"paddingInner": 0.09, "paddingOuter": 0}}, "x": {"datum": 0, "type": "quantitative", "scale": {"domain": [0, 1], "padding": 1.5, "nice": false, "zero": false}, "axis": null}, "x2": {"datum": 1},
    "color": {"field": "down", "type": "quantitative", "scale": {"domain": [1.3, 2, 3, 5, 10, 20, 50], "range": ["#FCEE21", "#FBE41A", "#F2C916", "#E8AA1E", "#E07A24", "#D6502A", "#C1202B"], "interpolate": "rgb"}, "legend": null}}},
  {"transform": [{"filter": "datum.row == 15"}], "mark": {"type": "rule", "color": "#000", "strokeWidth": 2.5}, "encoding": {"y": {"field": "row", "type": "ordinal", "bandPosition": 0, "axis": null, "scale": {"paddingInner": 0.09, "paddingOuter": 0}}}}
  ]}
 ]},
{"columns": 2, "bounds": "flush", "align": "each", "spacing": 0,
 "concat": [
 {"width": 67, "height": 131.25, "data": {"values": [{"t": ""}]}, "mark": "text", "encoding": {"text": {"field": "t"}}},
 {"width": 55, "height": 131.25, "data": {"values": [{"t": ""}]}, "mark": "text", "encoding": {"text": {"field": "t"}}},
 {"width": 67, "height": 24, "layer": [
   {"data": {"values": [{}]}, "mark": {"type": "rule", "color": "#000", "strokeWidth": 2.5}, "encoding": {"y": {"datum": 1, "type": "quantitative", "scale": {"domain": [0, 1]}, "axis": null}}},
   {"data": {"values": [{}]}, "mark": {"type": "rule", "color": "#000", "strokeWidth": 2.5}, "encoding": {"y": {"datum": 0, "type": "quantitative"}}},
   {"data": {"values": [{}]}, "mark": {"type": "rule", "color": "#000", "strokeWidth": 2.5}, "encoding": {"x": {"datum": 0, "type": "quantitative", "scale": {"domain": [0, 1]}, "axis": null}}},
   {"data": {"values": [{"t": "INT Q"}]}, "mark": {"type": "text", "fontSize": 17, "fontWeight": "bold", "baseline": "middle", "dx": 27.5}, "encoding": {"text": {"field": "t"}}}
 ]},
 {"width": 55, "height": 24, "data": {"values": [{}]}, "layer": [
   {"mark": {"type": "rule", "color": "#000", "strokeWidth": 2.5}, "encoding": {"y": {"datum": 1, "type": "quantitative", "scale": {"domain": [0, 1]}, "axis": null}}},
   {"mark": {"type": "rule", "color": "#000", "strokeWidth": 2.5}, "encoding": {"y": {"datum": 0, "type": "quantitative"}}},
   {"mark": {"type": "rule", "color": "#000", "strokeWidth": 2.5}, "encoding": {"x": {"datum": 1, "type": "quantitative", "scale": {"domain": [0, 1]}, "axis": null}}}
 ]},
 {"width": 67, "height": 96, "view": {"stroke": "#000", "strokeWidth": 2.5}, "data": {"name": "legendq"}, "mark": {"type": "text", "fontSize": 17, "baseline": "middle"}, "encoding": {"y": {"field": "label", "type": "ordinal", "sort": null, "axis": null, "scale": {"paddingInner": 0, "paddingOuter": 0}}, "text": {"field": "label"}}},
 {"width": 55, "height": 96, "view": {"stroke": "#000", "strokeWidth": 2.5}, "data": {"name": "legendq"}, "mark": {"type": "rect"}, "encoding": {"y": {"field": "label", "type": "ordinal", "sort": null, "axis": null, "scale": {"paddingInner": 0, "paddingOuter": 0}}, "fill": {"field": "label", "type": "ordinal", "sort": null, "scale": {"domain": ["1.E-50", "1.E-25", "1.E-05", "5.E-02"], "range": ["#BF1F2A", "#EE2226", "#FDB813", "#FCEB1C"]}, "legend": null}}}
 ]}
]}
]
},
{
"columns": 2, "bounds": "flush", "align": "each", "spacing": {"row": 41, "column": 209},
"concat": [
 {"width": 131, "height": 26, "data": {"values": [{"t": "B"}]}, "mark": {"type": "text", "align": "right", "baseline": "middle", "fontSize": 26, "fontWeight": "bold"}, "encoding": {"text": {"field": "t"}, "x": {"datum": 1, "type": "quantitative", "scale": {"domain": [0, 1]}, "axis": null}}},
 {"width": 616, "height": 26, "data": {"values": [{"t": "HCT intersection analysis of aPU.1KO-repressed genes"}]}, "mark": {"type": "text", "fontSize": 20, "fontWeight": "bold", "baseline": "middle", "dx": -34}, "encoding": {"text": {"field": "t"}}},
 {"width": 131, "height": 400, "data": {"values": [{"t": ""}]}, "mark": "text", "encoding": {"text": {"field": "t"}}},
 {"width": 616, "height": 360,
   "layer": [
   {"data": {"values": [{}]}, "mark": {"type": "rule", "color": "#BFBFBF", "strokeWidth": 2}, "encoding": {"x": {"datum": -1}, "x2": {"datum": 1}, "y": {"datum": 0}}},
   {"data": {"values": [{}]}, "mark": {"type": "rule", "color": "#BFBFBF", "strokeWidth": 2}, "encoding": {"x": {"datum": 0}, "y": {"datum": 2}, "y2": {"datum": -6}}},
   {"data": {"name": "pts"},
    "mark": {"type": "point", "shape": "circle", "filled": true, "opacity": 1, "strokeWidth": 1},
    "encoding": {
     "x": {"field": "x", "type": "quantitative", "scale": {"domain": [-1, 1], "nice": false, "zero": false},
       "axis": {"values": [-1, -0.75, -0.5, -0.25, 0, 0.25, 0.5, 0.75, 1], "labelExpr": "datum.value % 0.5 == 0 ? '' + datum.value : ''", "offset": -270, "zindex": 1, "grid": false, "domain": false, "tickColor": "#BFBFBF", "tickWidth": 2, "tickSize": 6, "labelFontSize": 22, "labelColor": "#000", "labelPadding": 12, "labelOverlap": false, "labelFlush": false,
         "title": "LOG OR INT aPU.1KO UP", "titleFontSize": 19, "titleFontWeight": "normal", "titleColor": "#111", "titleX": 341, "titleY": 311, "titleBaseline": "middle", "titleAlign": "center"}},
     "y": {"field": "y", "type": "quantitative", "scale": {"domain": [-6, 2], "nice": false, "zero": false},
       "axis": {"values": [-6, -5, -4, -3, -2, -1, 0, 1, 2], "labelExpr": "datum.value % 2 == 0 ? '' + datum.value : ''", "offset": -308, "zindex": 1, "grid": false, "domain": false, "tickColor": "#BFBFBF", "tickWidth": 2, "tickSize": 7, "labelFontSize": 22, "labelColor": "#000", "labelPadding": 12, "labelOverlap": false, "labelFlush": false,
         "title": "LOG₁₀(-LOG₁₀ P) INT aPU.1KO UP", "titleFontSize": 19, "titleFontWeight": "normal", "titleColor": "#111", "titleX": -342, "titleY": 180, "titleAngle": 270, "titleBaseline": "middle", "titleAlign": "center"}},
     "fill": {"field": "g", "type": "nominal", "scale": {"domain": ["n", "q", "b"], "range": ["#D4D4D4", "#D4D4D4", "#FFF200"]}, "legend": null},
     "stroke": {"field": "g", "type": "nominal", "scale": {"domain": ["n", "q", "b"], "range": ["#8C8C8C", "#E8502F", "#111111"]}, "legend": null},
     "size": {"field": "g", "type": "nominal", "scale": {"domain": ["n", "q", "b"], "range": [85, 85, 100]}, "legend": null}
    }},
   {"data": {"values": [{}]}, "mark": {"type": "rect", "fill": "white", "stroke": "#3A3A3A", "strokeWidth": 1.3}, "encoding": {"x": {"datum": 0.042}, "x2": {"datum": 0.685}, "y": {"datum": -2.22}, "y2": {"datum": -6.02}}},
   {"data": {"values": [{}]}, "mark": {"type": "point", "shape": "circle", "filled": true, "opacity": 1, "size": 85, "fill": "#D4D4D4", "stroke": "#E8502F", "strokeWidth": 1}, "encoding": {"x": {"datum": 0.11}, "y": {"datum": -2.62}}},
   {"data": {"values": [{}]}, "mark": {"type": "text", "text": "Q<0.05 NODES", "align": "left", "baseline": "middle", "fontSize": 19, "color": "#1A1A1A"}, "encoding": {"x": {"datum": 0.149}, "y": {"datum": -2.62}}},
   {"data": {"values": [{}]}, "mark": {"type": "point", "shape": "circle", "filled": true, "opacity": 1, "size": 100, "fill": "#FFF200", "stroke": "#111", "strokeWidth": 1}, "encoding": {"x": {"datum": 0.11}, "y": {"datum": -3.24}}},
   {"data": {"values": [{}]}, "mark": {"type": "text", "text": "BIOGRID NODES", "align": "left", "baseline": "middle", "fontSize": 19, "color": "#1A1A1A"}, "encoding": {"x": {"datum": 0.149}, "y": {"datum": -3.24}}},
   {"data": {"values": [{}]}, "mark": {"type": "text", "text": "HYPERGEO. TEST", "align": "left", "baseline": "middle", "fontSize": 19, "fontWeight": "bold", "color": "#1A1A1A"}, "encoding": {"x": {"datum": 0.078}, "y": {"datum": -3.91}}},
   {"data": {"values": [{}]}, "mark": {"type": "rule", "color": "#666", "strokeWidth": 1.5}, "encoding": {"x": {"datum": 0.075}, "x2": {"datum": 0.623}, "y": {"datum": -4.2}}},
   {"data": {"values": [{}]}, "mark": {"type": "point", "shape": "circle", "filled": true, "opacity": 1, "size": 100, "fill": "#FFF200", "stroke": "#111", "strokeWidth": 1}, "encoding": {"x": {"datum": 0.097}, "y": {"datum": -4.69}}},
   {"data": {"values": [{}]}, "mark": {"type": "text", "text": "v", "align": "center", "baseline": "middle", "fontSize": 19, "color": "#1A1A1A"}, "encoding": {"x": {"datum": 0.145}, "y": {"datum": -4.69}}},
   {"data": {"values": [{}]}, "mark": {"type": "point", "shape": "circle", "filled": true, "opacity": 1, "size": 85, "fill": "#D4D4D4", "stroke": "#E8502F", "strokeWidth": 1}, "encoding": {"x": {"datum": 0.185}, "y": {"datum": -4.69}}},
   {"data": {"values": [{}]}, "mark": {"type": "text", "text": "p", "align": "left", "baseline": "middle", "fontSize": 19, "fontStyle": "italic", "color": "#1A1A1A"}, "encoding": {"x": {"datum": 0.211}, "y": {"datum": -4.69}}},
   {"data": {"values": [{}]}, "mark": {"type": "text", "text": "<1E-20", "align": "left", "baseline": "middle", "fontSize": 19, "color": "#1A1A1A"}, "encoding": {"x": {"datum": 0.248}, "y": {"datum": -4.69}}},
   {"data": {"values": [{}]}, "mark": {"type": "text", "text": "Odds Ratio = 22", "align": "left", "baseline": "middle", "fontSize": 19, "color": "#1A1A1A"}, "encoding": {"x": {"datum": 0.078}, "y": {"datum": -5.18}}},
   {"data": {"values": [{}]}, "mark": {"type": "text", "text": "P", "align": "left", "baseline": "middle", "fontSize": 19, "fontStyle": "italic", "color": "#1A1A1A"}, "encoding": {"x": {"datum": 0.078}, "y": {"datum": -5.69}}},
   {"data": {"values": [{}]}, "mark": {"type": "text", "text": "= 2.3E-04", "align": "left", "baseline": "middle", "fontSize": 19, "color": "#1A1A1A"}, "encoding": {"x": {"datum": 0.136}, "y": {"datum": -5.69}}},
   {"data": {"values": [{}]}, "mark": {"type": "rule", "color": "#111", "strokeWidth": 1}, "encoding": {"x": {"datum": 0.461}, "y": {"datum": 1.82}, "x2": {"datum": 0.485}, "y2": {"datum": 1.49}}},
   {"data": {"values": [{}]}, "mark": {"type": "rule", "color": "#111", "strokeWidth": 1}, "encoding": {"x": {"datum": 0.643}, "y": {"datum": 1.76}, "x2": {"datum": 0.585}, "y2": {"datum": 1.58}}},
   {"data": {"values": [{}]}, "mark": {"type": "rule", "color": "#111", "strokeWidth": 1}, "encoding": {"x": {"datum": 0.364}, "y": {"datum": 1.63}, "x2": {"datum": 0.42}, "y2": {"datum": 1.37}}},
   {"data": {"values": [{}]}, "mark": {"type": "rule", "color": "#111", "strokeWidth": 1}, "encoding": {"x": {"datum": 0.341}, "y": {"datum": 1.25}, "x2": {"datum": 0.418}, "y2": {"datum": 1.16}}},
   {"data": {"values": [{}]}, "mark": {"type": "rule", "color": "#111", "strokeWidth": 1}, "encoding": {"x": {"datum": 0.182}, "y": {"datum": 0.76}, "x2": {"datum": 0.21}, "y2": {"datum": 0.67}}},
   {"data": {"values": [{}]}, "mark": {"type": "text", "text": "Irf4", "align": "right", "baseline": "middle", "fontSize": 18, "color": "#1A1A1A"}, "encoding": {"x": {"datum": 0.455}, "y": {"datum": 1.93}}},
   {"data": {"values": [{}]}, "mark": {"type": "text", "text": "Jun", "align": "left", "baseline": "middle", "fontSize": 18, "color": "#1A1A1A"}, "encoding": {"x": {"datum": 0.649}, "y": {"datum": 1.87}}},
   {"data": {"values": [{}]}, "mark": {"type": "text", "text": "Ep300", "align": "right", "baseline": "middle", "fontSize": 18, "color": "#1A1A1A"}, "encoding": {"x": {"datum": 0.357}, "y": {"datum": 1.68}}},
   {"data": {"values": [{}]}, "mark": {"type": "text", "text": "Trim33", "align": "right", "baseline": "middle", "fontSize": 18, "color": "#1A1A1A"}, "encoding": {"x": {"datum": 0.334}, "y": {"datum": 1.26}}},
   {"data": {"values": [{}]}, "mark": {"type": "text", "text": "Gata1", "align": "right", "baseline": "middle", "fontSize": 18, "color": "#1A1A1A"}, "encoding": {"x": {"datum": 0.179}, "y": {"datum": 0.76}}}
   ]},
 {"width": 131, "height": 175, "data": {"name": "caption"}, "mark": {"type": "text", "align": "left", "baseline": "middle", "fontSize": 17.3, "color": "#231F20"}, "encoding": {"y": {"field": "line", "type": "ordinal", "axis": null, "scale": {"paddingInner": 0, "paddingOuter": 0}}, "x": {"datum": 0, "type": "quantitative", "scale": {"domain": [0, 1]}, "axis": null}, "text": {"field": "text"}}},
 {"width": 616, "height": 175, "data": {"values": [{"t": ""}]}, "mark": "text", "encoding": {"text": {"field": "t"}}}
]
}
]
}
